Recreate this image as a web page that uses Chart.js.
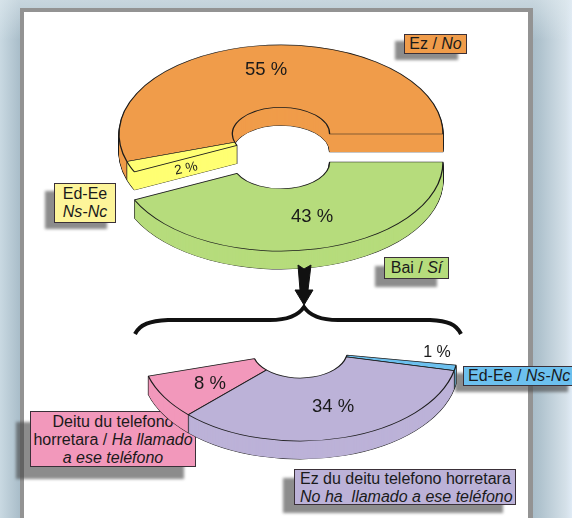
<!DOCTYPE html>
<html>
<head>
<meta charset="utf-8">
<script src="https://cdn.jsdelivr.net/npm/chart.js@4"></script>
<style>
html, body { margin: 0; padding: 0; }
#page {
  position: relative; width: 572px; height: 518px; overflow: hidden;
  font-family: "Liberation Sans", Arial, sans-serif; color: #1a1a1a;
  background:
    linear-gradient(90deg, #c9d9e2 0px, #a9bdc9 20px, #a9bdc9 533px, #b0c3ce 540px, #d5e1e9 566px, #e0ebf6 572px);
}
#topglow { position: absolute; left: 0; top: 0; width: 572px; height: 40px;
  background: linear-gradient(180deg, rgba(225,235,240,.55), rgba(225,235,240,0)); }
#panel { position: absolute; left: 20px; top: 8px; width: 513px; height: 510px; background: #939393; }
#paper { position: absolute; left: 24px; top: 12px; width: 504px; height: 506px; background: #fff; }
canvas { position: absolute; left: 0; top: 0; }
svg { position: absolute; left: 0; top: 0; }
.box {
  position: absolute; box-sizing: border-box; border: 1px solid #3a3038;
  font-size: 16px; line-height: 18px; text-align: center; white-space: nowrap;
}
.shadow { position: absolute; background: rgba(70,70,70,.62); filter: blur(1.5px); }
.pct { position: absolute; transform: translate(-50%, -50%); font-size: 18.5px; white-space: nowrap; }
</style>
</head>
<body>
<div id="page">
  <div id="topglow"></div>
  <div id="panel"></div>
  <div id="paper"></div>

  <!-- the pink label sits under the pie -->
  <div class="shadow" style="left:16px;top:422px;width:168px;height:57px"></div>
  <div class="box" style="left:30px;top:411px;width:166px;height:56px;background:#f298bb;padding-top:1px">Deitu du telefono<br>horretara / <i>Ha llamado</i><br><i>a ese teléfono</i></div>

  <canvas id="topChart" width="572" height="518"></canvas>
  <canvas id="bottomChart" width="572" height="518"></canvas>

  <svg width="572" height="518">
    <path d="M298 265 L304 269 L311 265 L308 290 L313 290 L304 305 L295 290 L300 290 Z" fill="#111" stroke="#111" stroke-width="1"/>
    <path d="M135 334 C140 324 150 321 168 320 L270 320 C288 320 298 316 304 307 C310 316 320 320 338 320 L430 320 C448 321 456 324 461 334" fill="none" stroke="#111" stroke-width="4"/>
  </svg>

  <div class="shadow" style="left:395px;top:41px;width:63px;height:19px"></div>
  <div class="box" style="left:404px;top:34px;width:63px;height:20px;background:#f09c4a">Ez / <i>No</i></div>

  <div class="shadow" style="left:45px;top:191px;width:62px;height:38px"></div>
  <div class="box" style="left:54px;top:183px;width:62px;height:40px;background:#fdf59a;padding-top:1px">Ed-Ee<br><i>Ns-Nc</i></div>

  <div class="shadow" style="left:375px;top:266px;width:62px;height:21px"></div>
  <div class="box" style="left:384px;top:257px;width:65px;height:22px;background:#b6dc7c;padding-top:1px">Bai / <i>Sí</i></div>

  <div class="shadow" style="left:455px;top:373px;width:113px;height:19px"></div>
  <div class="box" style="left:463px;top:366px;width:112px;height:20px;background:#6cc0ee;text-align:left;padding-left:4px">Ed-Ee / <i>Ns-Nc</i></div>

  <div class="shadow" style="left:283px;top:478px;width:220px;height:35px"></div>
  <div class="box" style="left:294px;top:469px;width:222px;height:36px;background:#bcb2d8;text-align:left;padding-left:5px;line-height:17.5px">Ez du deitu telefono horretara<br><i>No ha&nbsp; llamado a ese teléfono</i></div>
</div>

<script>
// Values
const topLabels = ['Bai / Sí', 'Ed-Ee / Ns-Nc', 'Ez / No'];
const topValues = [43, 2, 55];
const bottomLabels = ['Ed-Ee / Ns-Nc', 'Ez du deitu telefono horretara', 'Deitu du telefono horretara'];
const bottomValues = [1, 34, 8];

const topColors = ['#b6dc7c', '#ffff73', '#f09c4a'];
const bottomColors = ['#6cc0ee', '#bcb2d8', '#f298bb'];

// Flat doughnut squashed and extruded on the canvas, so it looks like the 3D original
const pie3d = {
  id: 'pie3d',
  beforeDatasetsDraw(chart, args, opts) {
    const ctx = chart.ctx;
    const arcs = chart.getDatasetMeta(0).data;

    opts.order.forEach(function (i) {
      const arc = arcs[i];
      const shift = opts.shift[i] || 0;
      const saved = arc.options;

      const place = function (d) {
        ctx.save();
        ctx.translate(opts.x, opts.y + shift + d);
        ctx.scale(1, opts.squash);
        ctx.translate(-arc.x, -arc.y);
        arc.draw(ctx);
        ctx.restore();
      };

      // outline of the whole solid, then the fill over it, then the top face
      for (let d = opts.depth; d > 0; d--) place(d);
      arc.options = Object.assign({}, saved, { borderWidth: 0 });
      for (let d = opts.depth; d > 0; d--) place(d);
      arc.options = saved;
      place(0);
    });
    return false; // we drew them already
  }
};

new Chart(document.getElementById('topChart'), {
  type: 'doughnut',
  data: {
    labels: topLabels,
    datasets: [{ data: topValues, backgroundColor: topColors, borderColor: '#1c1c1c', borderWidth: 1.3 }]
  },
  options: {
    responsive: false,
    animation: false,
    rotation: 90,
    radius: 162,
    cutout: '30%',
    plugins: {
      legend: { display: false },
      tooltip: { enabled: false },
      pie3d: { x: 281, y: 134, squash: 0.55, depth: 18, shift: [28, 0, 0], order: [2, 1, 0] }
    }
  },
  plugins: [pie3d]
});

new Chart(document.getElementById('bottomChart'), {
  type: 'doughnut',
  data: {
    labels: bottomLabels,
    datasets: [{ data: bottomValues, backgroundColor: bottomColors, borderColor: '#1c1c1c', borderWidth: 1.3 }]
  },
  options: {
    responsive: false,
    animation: false,
    rotation: 99,
    circumference: 154.8,
    radius: 158,
    cutout: '30%',
    plugins: {
      legend: { display: false },
      tooltip: { enabled: false },
      pie3d: { x: 300, y: 351, squash: 0.57, depth: 18, shift: [0, 0, 0], order: [0, 2, 1] }
    }
  },
  plugins: [pie3d]
});

// Percent labels, text comes from the values
function addPct(value, x, y, extra) {
  const el = document.createElement('div');
  el.className = 'pct';
  el.textContent = value + ' %';
  el.style.left = x + 'px';
  el.style.top = y + 'px';
  if (extra) el.style.cssText += extra;
  document.getElementById('page').appendChild(el);
}
addPct(topValues[2], 266, 69);
addPct(topValues[0], 312, 216);
addPct(topValues[1], 186, 168, 'font-size:13.5px;transform:translate(-50%,-50%) rotate(-12deg)');
addPct(bottomValues[2], 210, 383);
addPct(bottomValues[1], 333, 406);
addPct(bottomValues[0], 437, 352, 'font-size:16px');
</script>
</body>
</html>
